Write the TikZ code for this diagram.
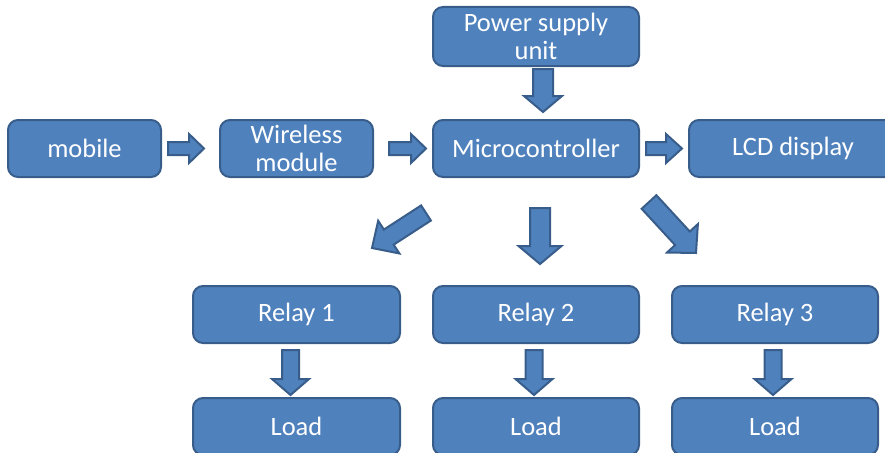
\documentclass[tikz,border=0pt]{standalone}
\usepackage{fontspec}
\setmainfont{Carlito}
\usetikzlibrary{calc}

\definecolor{boxfill}{HTML}{4F81BD}
\definecolor{boxline}{HTML}{385D8A}

% Block arrow from tail #2 to tip #3: #4 half shaft width, #5 half head width, #6 head length
\newcommand\fatarrow[6]{%
  \coordinate (#1-b) at ($(#3)!#6!(#2)$);
  \filldraw[arrowbody]
    ($(#2)!#4!90:(#3)$) -- ($(#1-b)!#4!90:(#3)$) -- ($(#1-b)!#5!90:(#3)$) -- (#3)
    -- ($(#1-b)!#5!-90:(#3)$) -- ($(#1-b)!#4!-90:(#3)$) -- ($(#2)!#4!-90:(#3)$) -- cycle;}

\tikzset{
  block/.style={draw=boxline, fill=boxfill, line width=2pt, rounded corners=10pt,
    text=white, align=center, inner sep=0pt,
    font=\fontsize{26.5}{28}\selectfont, minimum height=57pt},
  arrowbody/.style={draw=boxline, fill=boxfill, line width=2pt, line join=miter},
}

\begin{document}
\begin{tikzpicture}[x=1pt, y=-1pt]
\useasboundingbox (0,0) rectangle (885,452);

% boxes
\node[block, minimum width=153pt] (mobile)   at (84.5,148.5) {mobile};
\node[block, minimum width=153pt] (wireless) at (296.5,148.5) {Wireless\\module};
\node[block, minimum width=206pt] (micro)    at (536,148.5) {Microcontroller};
\node[block, minimum width=206pt, minimum height=59pt] (power) at (536,36.5) {Power supply\\unit};
\node[block, minimum width=208pt] (lcd)      at (793,148.5) {LCD display};
\node[block, minimum width=207pt] (relay1)   at (296.5,314.5) {Relay 1};
\node[block, minimum width=206pt] (relay2)   at (536,314.5) {Relay 2};
\node[block, minimum width=206pt] (relay3)   at (775,314.5) {Relay 3};
\node[block, minimum width=207pt] (load1)    at (296.5,426.5) {Load};
\node[block, minimum width=206pt] (load2)    at (536,426.5) {Load};
\node[block, minimum width=206pt] (load3)    at (775,426.5) {Load};

% arrow end points, placed relative to the boxes
\coordinate (t1) at ($(mobile.east)+(6,0)$);    \coordinate (h1) at ($(wireless.west)+(-15,0)$);
\coordinate (t2) at ($(wireless.east)+(15,0)$); \coordinate (h2) at ($(micro.west)+(-6,0)$);
\coordinate (t3) at ($(micro.east)+(6,0)$);     \coordinate (h3) at ($(lcd.west)+(-6,0)$);
\coordinate (t4) at ($(power.south)+(7,2)$);    \coordinate (h4) at ($(micro.north)+(7,-7)$);
\coordinate (t5) at ($(micro.south)+(4,30)$);   \coordinate (h5) at ($(relay2.north)+(4,-21)$);
\coordinate (t6) at ($(micro.south)+(-110,35)$);\coordinate (h6) at ($(relay1.north)+(75.5,-37)$);
\coordinate (t7) at ($(micro.south)+(113,24)$); \coordinate (h7) at ($(relay3.north)+(-79,-32)$);
\coordinate (t8) at ($(relay1.south)+(-6,6)$);  \coordinate (h8) at ($(load1.north)+(-6,-2)$);
\coordinate (t9) at ($(relay2.south)+(-2,6)$);  \coordinate (h9) at ($(load2.north)+(-2,-2)$);
\coordinate (t10) at ($(relay3.south)+(-2,6)$); \coordinate (h10) at ($(load3.north)+(-2,-2)$);

% arrows
\fatarrow{a1}{t1}{h1}{6.5pt}{14.5pt}{15pt}
\fatarrow{a2}{t2}{h2}{6.5pt}{14.5pt}{15pt}
\fatarrow{a3}{t3}{h3}{6.5pt}{14.5pt}{16pt}
\fatarrow{a4}{t4}{h4}{10pt}{19pt}{16pt}
\fatarrow{a5}{t5}{h5}{10pt}{21.5pt}{18pt}
\fatarrow{a6}{t6}{h6}{9pt}{19.5pt}{20pt}
\fatarrow{a7}{t7}{h7}{10pt}{21pt}{20pt}
\fatarrow{a8}{t8}{h8}{8.5pt}{18.5pt}{16pt}
\fatarrow{a9}{t9}{h9}{8.5pt}{18.5pt}{16pt}
\fatarrow{a10}{t10}{h10}{8.5pt}{18.5pt}{16pt}
\end{tikzpicture}
\end{document}
